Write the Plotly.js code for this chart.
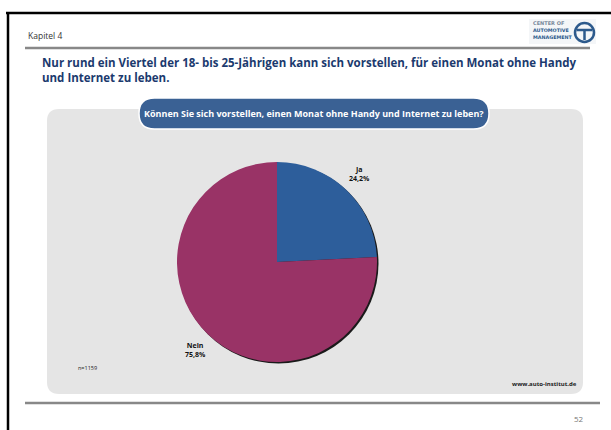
<!DOCTYPE html>
<html>
<head>
<meta charset="utf-8">
<script src="https://cdn.plot.ly/plotly-3.0.1.min.js"></script>
<style>html,body{margin:0;padding:0;background:#fff;}#chart{width:611px;height:430px;}</style>
</head>
<body>
<div id="chart"></div>
<script>
// ---- data ----
const categories = ["Ja", "Nein"];
const shares = [24.2, 75.8];
const sliceColors = ["#2d5e9b", "#993366"];
const sampleNote = "n=1159";
const sourceNote = "www.auto-institut.de";
const chapter = "Kapitel 4";
const headline = "Nur rund ein Viertel der 18- bis 25-Jährigen kann sich vorstellen, für einen Monat ohne Handy<br>und Internet zu leben.";
const question = "Können Sie sich vorstellen, einen Monat ohne Handy und Internet zu leben?";
const pageNumber = "52";

// ---- helpers (pixel -> paper) ----
const W = 611, H = 430;
const px = x => x / W;
const py = y => 1 - y / H;
function pt(x, y) { return px(x).toFixed(5) + "," + py(y).toFixed(5); }
function roundRect(x0, y0, x1, y1, r) {
  return "M" + pt(x0 + r, y0) + " L" + pt(x1 - r, y0) + " Q" + pt(x1, y0) + " " + pt(x1, y0 + r) +
    " L" + pt(x1, y1 - r) + " Q" + pt(x1, y1) + " " + pt(x1 - r, y1) +
    " L" + pt(x0 + r, y1) + " Q" + pt(x0, y1) + " " + pt(x0, y1 - r) +
    " L" + pt(x0, y0 + r) + " Q" + pt(x0, y0) + " " + pt(x0 + r, y0) + " Z";
}
function line(x0, y0, x1, y1, color, width) {
  return {type: "line", xref: "paper", yref: "paper", x0: px(x0), y0: py(y0), x1: px(x1), y1: py(y1),
    line: {color: color, width: width}, layer: "above"};
}
function note(x, y, text, font, xa, ya, align) {
  return {xref: "paper", yref: "paper", x: px(x), y: py(y), xanchor: xa || "center", yanchor: ya || "middle",
    text: text, showarrow: false, font: font, align: align || "center"};
}

const pie = {cx: 277, cy: 262, r: 100};
const domain = {x: [px(pie.cx - pie.r), px(pie.cx + pie.r)], y: [py(pie.cy + pie.r), py(pie.cy - pie.r)]};
const shadowDomain = {x: [px(pie.cx - pie.r + 1.5), px(pie.cx + pie.r + 1.5)], y: [py(pie.cy + pie.r + 1.5), py(pie.cy - pie.r + 1.5)]};

const traces = [
  {type: "pie", values: [1], marker: {colors: ["#1a1a1a"]}, domain: shadowDomain, textinfo: "none",
    hoverinfo: "skip", showlegend: false, sort: false},
  {type: "pie", labels: categories, values: shares, marker: {colors: sliceColors, line: {width: 0}},
    domain: domain, sort: false, direction: "clockwise", rotation: 0, textinfo: "none",
    hoverinfo: "label+percent", showlegend: false}
];

const fontMain = "Open Sans, sans-serif";
const fmt = v => v.toFixed(1).replace(".", ",") + "%";
const labelPos = [[359, 174], [195, 350]];
const annotations = categories.map((c, i) =>
  note(labelPos[i][0], labelPos[i][1], "<b>" + c + "</b><br><b>" + fmt(shares[i]) + "</b>",
    {family: fontMain, size: 7, color: "#111"}));

annotations.push(
  note(26, 36, chapter, {family: fontMain, size: 8.5, color: "#333"}, "left"),
  note(40, 53, "<b>" + headline + "</b>", {family: fontMain, size: 11.5, color: "#1b3a6e"}, "left", "top", "left"),
  note(314, 113.5, "<b>" + question + "</b>", {family: fontMain, size: 9, color: "#ffffff"}),
  note(87, 368, sampleNote, {family: fontMain, size: 5.5, color: "#222"}),
  note(579, 384, "<b>" + sourceNote + "</b>", {family: fontMain, size: 6, color: "#222"}, "right"),
  note(586, 418, pageNumber, {family: fontMain, size: 8, color: "#777"}, "right"),
  note(531, 23, "<b>CENTER OF</b>", {family: "DejaVu Sans, sans-serif", size: 5, color: "#7a8a9c"}, "left"),
  note(531, 30.5, "<b>AUTOMOTIVE</b>", {family: "DejaVu Sans, sans-serif", size: 4.8, color: "#2d5a8c"}, "left"),
  note(531, 38, "<b>MANAGEMENT</b>", {family: "DejaVu Sans, sans-serif", size: 4.8, color: "#2d5a8c"}, "left")
);

const shapes = [
  {type: "rect", xref: "paper", yref: "paper", x0: px(529), y0: py(19), x1: px(596), y1: py(44),
    fillcolor: "#f4f6f8", line: {width: 0}, layer: "below"},
  {type: "path", xref: "paper", yref: "paper", path: roundRect(47, 109, 583, 394, 12),
    fillcolor: "#e5e5e5", line: {width: 0}, layer: "below"},
  {type: "path", xref: "paper", yref: "paper", path: roundRect(139, 98, 489, 129, 15.5),
    fillcolor: "#3a6194", line: {color: "#ffffff", width: 1.5}, layer: "above"},
  line(6, 13, 611, 13, "#000", 2.5),
  line(8, 12, 8, 430, "#000", 2.5),
  line(25, 48, 590, 48, "#888", 2.5),
  line(25, 403, 600, 403, "#888", 2.5),
  // logo wheel
  {type: "circle", xref: "paper", yref: "paper", x0: px(575), y0: py(23), x1: px(594), y1: py(42),
    line: {color: "#2d5a8c", width: 2.5}, fillcolor: "rgba(0,0,0,0)", layer: "above"},
  line(577, 30, 592, 30, "#2d5a8c", 2.5),
  line(584.5, 30, 584.5, 40, "#2d5a8c", 2.5)
];

const layout = {
  width: W, height: H, margin: {l: 0, r: 0, t: 0, b: 0},
  paper_bgcolor: "#ffffff", plot_bgcolor: "#ffffff",
  showlegend: false, shapes: shapes, annotations: annotations
};
Plotly.newPlot("chart", traces, layout, {displayModeBar: false, staticPlot: true});
</script>
</body>
</html>
